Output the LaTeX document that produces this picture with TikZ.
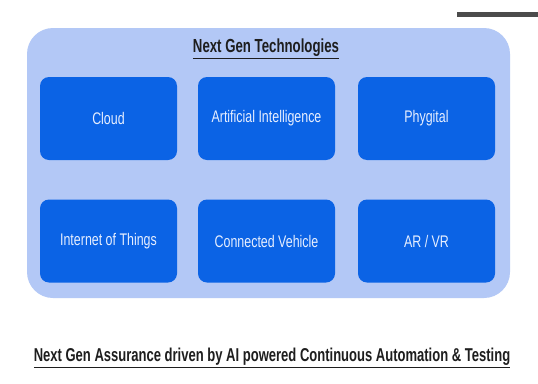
\documentclass[tikz,border=0pt]{standalone}
\usepackage{fontspec}
\setmainfont[FakeStretch=0.74]{Liberation Sans}
\newfontfamily\boldcond[FakeStretch=0.7,BoldFont={Liberation Sans Bold}]{Liberation Sans}
\definecolor{panel}{HTML}{B3C8F6}
\definecolor{tile}{HTML}{0B63E5}
\definecolor{tiletext}{HTML}{E6EEFF}
\definecolor{ink}{HTML}{1E1E1E}
\begin{document}
\begin{tikzpicture}[x=1pt,y=-1pt,
  tilebox/.style={fill=tile, rounded corners=9pt, minimum width=137pt, minimum height=83pt, inner sep=0pt, text=tiletext, font=\fontsize{16.8}{19}\selectfont},
  heading/.style={text=ink, font=\boldcond\bfseries\fontsize{18.9}{22}\selectfont, inner sep=0pt}
]
\useasboundingbox[fill=white] (0,0) rectangle (538,383);
\fill[ink!80] (457,12) rectangle (538,17);
\node[fill=panel, rounded corners=26pt, minimum width=483pt, minimum height=270pt, inner sep=0pt] (panel) at (268.5,163) {};
\node[heading] (title) at (266,49) {\underline{Next Gen Technologies}};
\node[tilebox] (cloud) at (108.5,118.5) {Cloud};
\node[tilebox] (ai) at (266.5,118.5) {Artificial Intelligence};
\node[tilebox] (phy) at (426.5,118.5) {Phygital};
\node[tilebox] (iot) at (108.5,241) {Internet of Things};
\node[tilebox] (cv) at (266.5,241) {Connected Vehicle};
\node[tilebox] (arvr) at (426.5,241) {AR / VR};
\node[heading, font=\boldcond\bfseries\fontsize{18.6}{22}\selectfont] (foot) at (272,358) {\underline{Next Gen Assurance driven by AI powered Continuous Automation \& Testing}};
\end{tikzpicture}
\end{document}
